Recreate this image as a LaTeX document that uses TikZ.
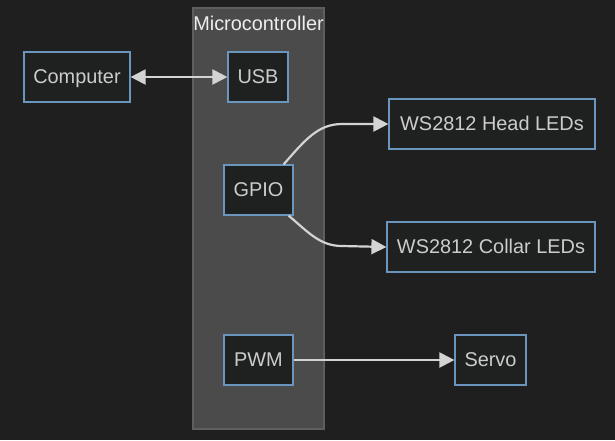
\documentclass[tikz,border=0pt]{standalone}
\usepackage{fontspec}
\setmainfont{Liberation Sans}
\usetikzlibrary{arrows.meta}
\definecolor{bg}{HTML}{1F1F1F}
\definecolor{clusterfill}{HTML}{4A4B4A}
\definecolor{clusterline}{HTML}{5E5E5E}
\definecolor{boxfill}{HTML}{1F2020}
\definecolor{boxline}{HTML}{6A96BE}
\definecolor{txt}{HTML}{CCCCCC}
\definecolor{title}{HTML}{EEEEEE}
\definecolor{edge}{HTML}{D3D3D3}
\tikzset{
  box/.style={draw=boxline, line width=1.2pt, fill=boxfill, text=txt, rectangle,
    inner sep=0pt, minimum height=50pt, text height=17pt, text depth=4pt,
    font=\fontsize{19.9}{22}\selectfont},
  link/.style={draw=edge, line width=2.2pt, -{Triangle[length=15pt,width=15pt]}},
  blink/.style={draw=edge, line width=2.2pt, {Triangle[length=15pt,width=15pt]}-{Triangle[length=15pt,width=15pt]}}
}
\begin{document}
\begin{tikzpicture}[x=1pt,y=-1pt]
\fill[bg] (0,0) rectangle (615,440);
\useasboundingbox (0,0) rectangle (615,440);
\draw[fill=clusterfill, draw=clusterline, line width=1.2pt] (193,8) rectangle (324,429);
\node[text=title, font=\fontsize{19.9}{22}\selectfont, inner sep=0pt] (mc) at (258.5,23.5) {Microcontroller};
\node[box, minimum width=106pt] (comp) at (77,77) {Computer};
\node[box, minimum width=60pt] (usb) at (258,77) {USB};
\node[box, minimum width=69pt] (gpio) at (258.5,190) {GPIO};
\node[box, minimum width=206pt] (head) at (492,124) {WS2812 Head LEDs};
\node[box, minimum width=208pt] (collar) at (491,247) {WS2812 Collar LEDs};
\node[box, minimum width=69pt] (pwm) at (258.5,360) {PWM};
\node[box, minimum width=71pt] (servo) at (490.5,360) {Servo};
\coordinate (h1) at (342,124);
\coordinate (c1) at (342,246);
\draw[blink] (comp.east) -- (usb.west);
\draw[link] ([xshift=-10pt]gpio.north east) .. controls (305,140) and (318,124) .. (h1) -- (head.west);
\draw[link] ([xshift=-5pt]gpio.south east) .. controls (308,232) and (320,246) .. (c1) -- (collar.west);
\draw[link] (pwm.east) -- (servo.west);
\end{tikzpicture}
\end{document}
